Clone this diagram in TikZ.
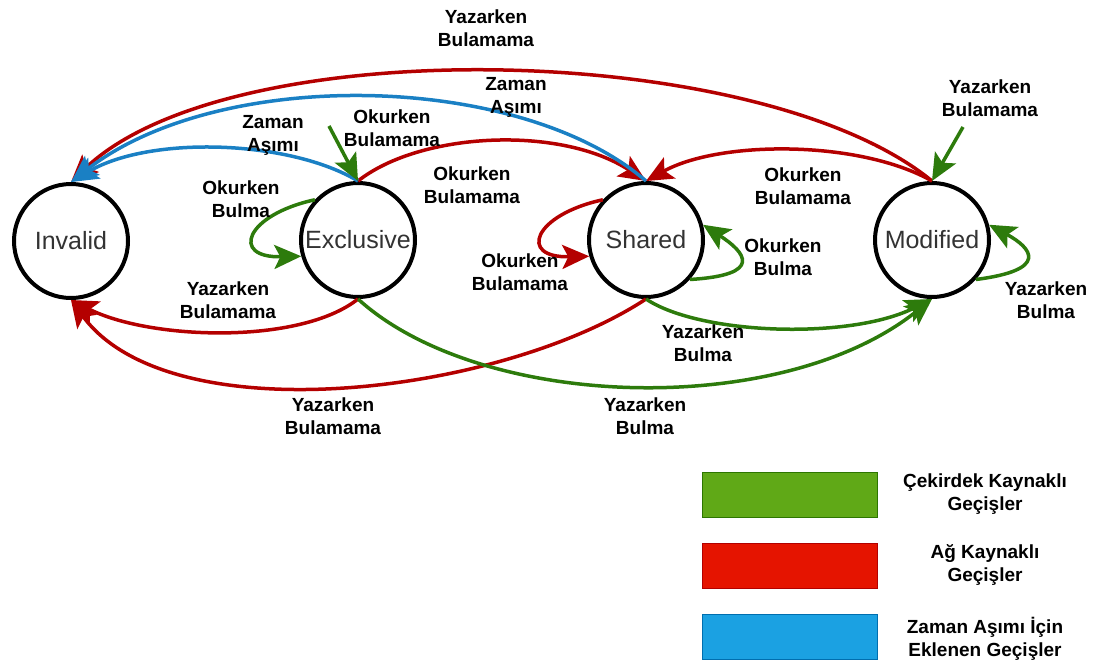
\documentclass[tikz,border=0pt]{standalone}
\usepackage{fontspec}
\setmainfont{Liberation Sans}
\usetikzlibrary{arrows.meta}
\definecolor{grnline}{HTML}{2D7B0C}
\definecolor{redline}{HTML}{B40000}
\definecolor{bluline}{HTML}{1A80C4}
\definecolor{grnfill}{HTML}{60A917}
\definecolor{grnedge}{HTML}{2D7600}
\definecolor{redfill}{HTML}{E51400}
\definecolor{rededge}{HTML}{B20000}
\definecolor{blufill}{HTML}{1BA1E2}
\definecolor{bluedge}{HTML}{006EAF}
\begin{document}
\begin{tikzpicture}[x=1pt,y=-1pt,
  state/.style={circle, draw=black, line width=4pt, fill=white,
    minimum size=114pt, inner sep=0pt,
    font=\fontsize{25}{30}\selectfont, text=black!80},
  lbl/.style={align=center, inner sep=0pt,
    font=\bfseries\fontsize{19}{23}\selectfont},
  conn/.style={line width=3.5pt,
    -{Stealth[length=27pt,width=24pt,inset=6pt]}},
  core/.style={conn, color=grnline},
  net/.style={conn, color=redline},
  tout/.style={conn, color=bluline},
  keybox/.style={rectangle, line width=1pt, minimum width=175pt,
    minimum height=45pt, inner sep=0pt}
]
\useasboundingbox (0,0) rectangle (1098,662);

% states
\node[state] (inv) at (71,241)  {Invalid};
\node[state] (ex)  at (358,240) {Exclusive};
\node[state] (sh)  at (646,240) {Shared};
\node[state] (mod) at (932,240) {Modified};

% free ends of the incoming core arrows
\coordinate (exin)  at (329,126);
\coordinate (modin) at (963,127);

% network transitions (upper)
\draw[net] (mod.north) .. controls (760,40) and (230,30) .. (inv.north);
\draw[net] (ex.north) .. controls (420,132) and (560,125) .. (sh.north);
\draw[net] (mod.north) .. controls (860,140) and (720,140) .. (sh.north);

% timeout transitions
\draw[tout] (sh.north) .. controls (520,72) and (220,66) .. (inv.north);
\draw[tout] (ex.north) .. controls (290,140) and (150,135) .. (inv.north);

% core transitions (upper)
\draw[core] (exin) -- (ex.north);
\draw[core] (modin) -- (mod.north);

% self loops
\draw[core] (ex.137) .. controls (245,215) and (230,258) .. (ex.196);
\draw[net]  (sh.137) .. controls (533,215) and (518,258) .. (sh.196);
\draw[core] (sh.-42) .. controls (765,275) and (745,252) .. (sh.15);
\draw[core] (mod.-42) .. controls (1050,270) and (1032,248) .. (mod.15);

% lower transitions
\draw[net]  (ex.south) .. controls (300,345) and (150,340) .. (inv.south);
\draw[net]  (sh.south) .. controls (500,395) and (170,435) .. (inv.south);
\draw[core] (sh.south) .. controls (700,335) and (850,340) .. (mod.south);
\draw[core] (ex.south) .. controls (480,410) and (780,420) .. (mod.south);

% transition labels
\node[lbl] (l1)  at (486,28)   {Yazarken\\Bulamama};
\node[lbl] (l2)  at (516,97)   {Zaman\\Aşımı};
\node[lbl] (l3)  at (273,135)  {Zaman\\Aşımı};
\node[lbl] (l4)  at (392,128)  {Okurken\\Bulamama};
\node[lbl] (l5)  at (472,185)  {Okurken\\Bulamama};
\node[lbl] (l6)  at (803,186)  {Okurken\\Bulamama};
\node[lbl] (l7)  at (990,98)   {Yazarken\\Bulamama};
\node[lbl] (l8)  at (241,199)  {Okurken\\Bulma};
\node[lbl] (l9)  at (520,272)  {Okurken\\Bulamama};
\node[lbl] (l10) at (783,257)  {Okurken\\Bulma};
\node[lbl] (l11) at (1046,300) {Yazarken\\Bulma};
\node[lbl] (l12) at (228,300)  {Yazarken\\Bulamama};
\node[lbl] (l13) at (703,343)  {Yazarken\\Bulma};
\node[lbl] (l14) at (333,416)  {Yazarken\\Bulamama};
\node[lbl] (l15) at (645,416)  {Yazarken\\Bulma};

% key
\node[keybox, fill=grnfill, draw=grnedge] (k1) at (789.5,494.5) {};
\node[keybox, fill=redfill, draw=rededge] (k2) at (789.5,565.5) {};
\node[keybox, fill=blufill, draw=bluedge] (k3) at (789.5,637) {};
\node[lbl] (t1) at (985,494) {Çekirdek Kaynaklı\\Geçişler};
\node[lbl] (t2) at (985,565) {Ağ Kaynaklı\\Geçişler};
\node[lbl] (t3) at (985,639) {Zaman Aşımı İçin\\Eklenen Geçişler};
\end{tikzpicture}
\end{document}
